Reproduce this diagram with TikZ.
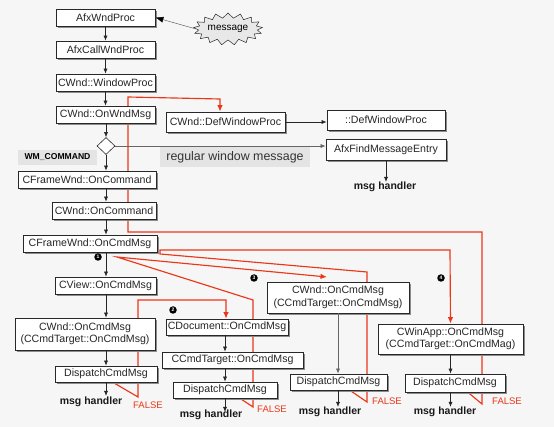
\documentclass[tikz,border=0pt]{standalone}
\usepackage{fontspec}
\setmainfont{Liberation Sans}
\usetikzlibrary{shapes.geometric,shapes.symbols,arrows.meta,shadows}
\definecolor{bg}{RGB}{246,246,246}
\definecolor{redl}{RGB}{235,55,25}
\definecolor{bord}{RGB}{40,40,40}
\definecolor{lab}{RGB}{228,228,228}
\pgfdeclarelayer{back}
\pgfsetlayers{back,main}
\begin{document}
\begin{tikzpicture}[x=1pt,y=-1pt,
  box/.style={draw=bord, fill=white, line width=0.75pt, inner sep=1pt,
    font=\fontsize{10.6}{12.5}\selectfont, text=black!85, align=center,
    drop shadow={shadow xshift=2pt, shadow yshift=-2pt, fill=black!45, opacity=1}},
  arr/.style={draw=black!85, line width=0.55pt, -{Latex[length=5pt,width=4pt]}},
  msgarr/.style={draw=black!65, line width=0.45pt, -{Latex[length=8pt,width=6pt,black]}},
  redline/.style={draw=redl, line width=1.15pt},
  redarr/.style={redline, -{Latex[length=6.5pt,width=5.5pt]}},
  mk/.style={circle, fill=black, inner sep=0pt, minimum size=7.5pt, text=white,
    font=\fontsize{5}{5}\bfseries\selectfont},
  mh/.style={inner sep=0pt, font=\fontsize{10.5}{12}\bfseries\selectfont, text=black!90},
  falsel/.style={inner sep=0pt, text=redl, font=\fontsize{9.5}{11}\selectfont}]
\begin{pgfonlayer}{back}
  \fill[bg] (0,0) rectangle (554,427);
\end{pgfonlayer}
\useasboundingbox (0,0) rectangle (554,427);

% main column
\node[box, minimum width=99pt, minimum height=17pt] (wndproc) at (105.5,17.5) {AfxWndProc};
\node[box, minimum width=99pt, minimum height=17pt] (callwnd) at (105.5,49.5) {AfxCallWndProc};
\node[box, minimum width=99pt, minimum height=17pt] (winproc) at (105.5,82.5) {CWnd::WindowProc};
\node[box, minimum width=99pt, minimum height=17pt] (onwnd) at (105.5,114.5) {CWnd::OnWndMsg};
\node[diamond, draw=bord, fill=white, line width=0.6pt, inner sep=0pt,
      minimum width=18pt, minimum height=17pt] (dia) at (106,146) {};
\node[box, minimum width=138pt, minimum height=17pt] (fcmd) at (87,179.5) {CFrameWnd::OnCommand};
\node[box, minimum width=104pt, minimum height=17pt] (wcmd) at (104,210.5) {CWnd::OnCommand};
\node[box, minimum width=134pt, minimum height=17pt] (fcmdmsg) at (90,243.5) {CFrameWnd::OnCmdMsg};
\node[box, minimum width=101pt, minimum height=17pt] (view) at (105.5,285.5) {CView::OnCmdMsg};
\node[box, minimum width=140pt, minimum height=32pt] (wcmdmsg1) at (85,334) {CWnd::OnCmdMsg\\(CCmdTarget::OnCmdMsg)};
\node[box, minimum width=102pt, minimum height=16pt] (disp1) at (106,374) {DispatchCmdMsg};
\node[mh] (mh1) at (91,402) {msg handler};

% right upper
\node[starburst, draw=bord, fill=black!9, line width=0.5pt, starburst points=17,
      starburst point height=5pt, random starburst=0, inner sep=0pt,
      minimum width=69pt, minimum height=32pt, font=\fontsize{10}{12}\selectfont] (msg) at (228,29) {message};
\node[box, minimum width=119pt, minimum height=20pt] (defwp) at (225.5,122) {CWnd::DefWindowProc};
\node[box, minimum width=118pt, minimum height=20pt] (apidef) at (386,120) {::DefWindowProc};
\node[box, minimum width=120pt, minimum height=21pt] (find) at (386,149.5) {AfxFindMessageEntry};
\node[mh] (mh0) at (385,187) {msg handler};
\node[fill=lab, inner sep=0pt, minimum width=79pt, minimum height=15pt,
      font=\fontsize{8.6}{10}\bfseries\selectfont] (wmc) at (57.5,157.5) {WM\_COMMAND};
\node[fill=lab, inner sep=0pt, minimum width=150pt, minimum height=20pt,
      font=\fontsize{12.4}{14}\selectfont, text=black!80] (reg) at (235,157) {regular window message};

% column 2
\node[box, minimum width=122pt, minimum height=16pt] (doc) at (227,327) {CDocument::OnCmdMsg};
\node[box, minimum width=141pt, minimum height=16pt] (target2) at (232.5,360) {CCmdTarget::OnCmdMsg};
\node[box, minimum width=104pt, minimum height=16pt] (disp2) at (225,390) {DispatchCmdMsg};
\node[mh] (mh2) at (211,415) {msg handler};

% column 3
\node[box, minimum width=142pt, minimum height=31pt] (wcmdmsg3) at (338,297.5) {CWnd::OnCmdMsg\\(CCmdTarget::OnCmdMsg)};
\node[box, minimum width=97pt, minimum height=16pt] (disp3) at (338.5,382) {DispatchCmdMsg};
\node[mh] (mh3) at (330,412) {msg handler};

% column 4
\node[box, minimum width=145pt, minimum height=30pt] (winapp) at (450.5,339) {CWinApp::OnCmdMsg\\(CCmdTarget::OnCmdMag)};
\node[box, minimum width=100pt, minimum height=18pt] (disp4) at (455,383) {DispatchCmdMsg};
\node[mh] (mh4) at (445,412) {msg handler};

% FALSE labels
\node[falsel] (f1) at (148,405) {FALSE};
\node[falsel] (f2) at (272,409) {FALSE};
\node[falsel] (f3) at (387,401) {FALSE};
\node[falsel] (f4) at (507,401) {FALSE};

% markers
\node[mk] (m1) at (98,257) {1};
\node[mk] (m2) at (173,310) {2};
\node[mk] (m3) at (254,278) {3};
\node[mk] (m4) at (441,278) {4};

% black connectors
\draw[msgarr] (msg.west) -- (wndproc.east);
\draw[arr] (wndproc) -- (callwnd);
\draw[arr] (callwnd) -- (winproc);
\draw[arr] (winproc) -- (onwnd);
\draw[arr] (onwnd.south -| dia) -- (dia.north);
\draw[arr] (dia.south) -- (dia.south |- fcmd.north);
\draw[arr] (dia |- fcmd.south) -- (dia |- wcmd.north);
\draw[arr] (dia |- wcmd.south) -- (dia |- fcmdmsg.north);
\draw[arr] (dia |- fcmdmsg.south) -- (dia |- view.north);
\draw[arr] (dia |- view.south) -- (dia |- wcmdmsg1.north);
\draw[arr] (dia |- wcmdmsg1.south) -- (dia |- disp1.north);
\draw[arr] (dia |- disp1.south) -- ([yshift=1pt]dia |- mh1.north);
\draw[arr, draw=black!60] (dia.east) -- (dia.east -| find.west);
\draw[arr] (defwp.east) -- (defwp.east -| apidef.west);
\draw[arr] (find.south) -- (find.south |- mh0.north);
\draw[arr] (disp2 |- doc.south) -- (disp2 |- target2.north);
\draw[arr] (disp2 |- target2.south) -- (disp2.north);
\draw[arr] (disp2.south) -- ([yshift=-2pt]disp2.south |- mh2.north);
\draw[arr, draw=black!60] (wcmdmsg3.south) -- (wcmdmsg3.south |- disp3.north);
\draw[arr] (wcmdmsg3.south |- disp3.south) -- (wcmdmsg3.south |- mh3.north);
\draw[arr] (winapp.south) -- (winapp.south |- disp4.north);
\draw[arr] (winapp.south |- disp4.south) -- (winapp.south |- mh4.north);

% red FALSE paths
\begin{pgfonlayer}{back}
\draw[redarr] ([xshift=13pt]disp4.south) -- (482,404) -- (482,232) -- (128,232)
  -- (128,97) -- (220,99) -- ([xshift=-5.5pt]defwp.north);
\draw[redarr] ([xshift=11.5pt]disp3.south) -- (367,402) -- (367,272) -- (160,254)
  -- (160,250) -- (450,250) -- (winapp.north);
\draw[redarr] ([xshift=15pt]disp2.south) -- (253,407) -- (253,300) -- (117,257)
  -- (327,277);
\draw[redarr] ([xshift=7pt]disp1.south) -- (138,397) -- (138,300) -- (226,300)
  -- ([xshift=-1pt]doc.north);
\end{pgfonlayer}
\end{tikzpicture}
\end{document}
